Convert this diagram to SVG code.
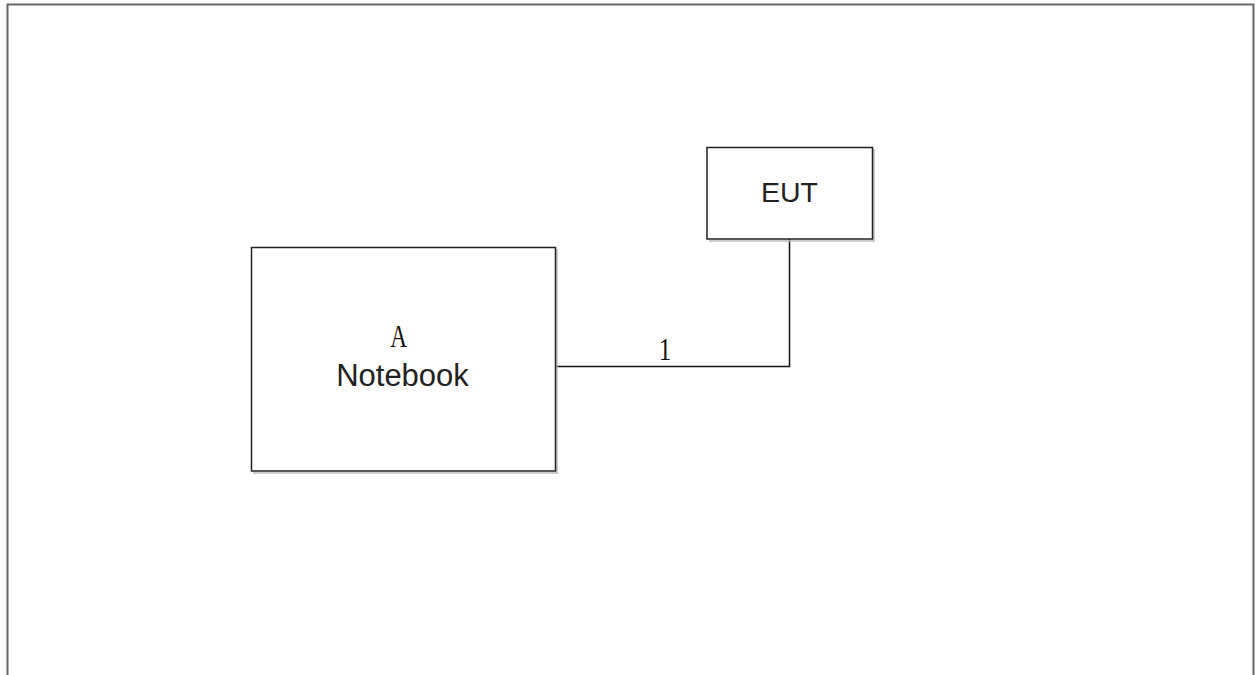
<svg xmlns="http://www.w3.org/2000/svg" width="1255" height="675" viewBox="0 0 1255 675">
<style>
.box{fill:#fff;stroke:#222;stroke-width:1.5}
.shadow{fill:none;stroke:#bbb;stroke-width:1.5}
.lbl{font-family:"Liberation Sans",Arial,sans-serif;fill:#222;text-anchor:middle}
.ser{font-family:"Liberation Serif","Times New Roman",serif;font-size:31px;fill:#111;text-anchor:middle}
.conn{fill:none;stroke:#111;stroke-width:1.5}
</style>
<rect width="1255" height="675" fill="#fff"/>
<path d="M7.5 675 V4.5 H1253.5 V675" fill="none" stroke="#666" stroke-width="2"/>
<g id="connectors">
<path class="conn" d="M555.5 366.5 H789.5 V239"/>
<text class="ser" x="665" y="360.5" transform="translate(665 0) scale(0.8 1) translate(-665 0)">1</text>
</g>
<g id="notebook">
<path class="shadow" d="M557 249 V473 H253"/>
<rect class="box" x="251.5" y="247.5" width="304" height="223.5"/>
<text class="ser" x="398.7" y="347.5" transform="translate(398.7 0) scale(0.75 1) translate(-398.7 0)">A</text>
<text class="lbl" x="402.5" y="386" font-size="31">Notebook</text>
</g>
<g id="eut">
<path class="shadow" d="M874 149 V241 H709"/>
<rect class="box" x="707" y="147.5" width="165.5" height="91.5"/>
<text class="lbl" x="789.5" y="201.7" font-size="28.5">EUT</text>
</g>
</svg>
